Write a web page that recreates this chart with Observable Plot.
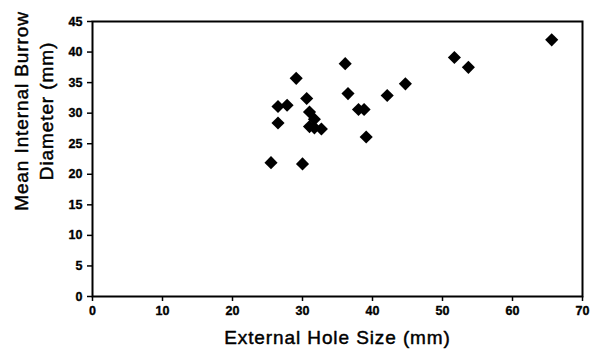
<!DOCTYPE html>
<html>
<head>
<meta charset="utf-8">
<script src="https://cdn.jsdelivr.net/npm/d3@7"></script>
<script src="https://cdn.jsdelivr.net/npm/@observablehq/plot@0.6"></script>
<style>
  html, body { margin: 0; padding: 0; background: #fff; }
  #chart { width: 591px; height: 357px; }
</style>
</head>
<body>
<div id="chart"></div>
<script>
const holeSize = [36.1, 29.1, 36.5, 30.6, 26.5, 27.8, 38.0, 38.8, 26.5, 31.0, 31.7, 31.0, 32.7, 31.7, 39.1, 25.5, 30.0, 51.7, 53.7, 44.7, 42.1, 65.6];
const burrowDiameter = [38.1, 35.7, 33.2, 32.4, 31.1, 31.3, 30.6, 30.6, 28.4, 30.2, 29.0, 27.8, 27.4, 27.6, 26.1, 21.9, 21.7, 39.1, 37.5, 34.8, 32.9, 42.0];
const xTicks = [0, 10, 20, 30, 40, 50, 60, 70];
const yTicks = [0, 5, 10, 15, 20, 25, 30, 35, 40, 45];
const xTitle = "External Hole Size (mm)";
const yTitle = "Mean Internal Burrow\nDiameter (mm)";

const data = holeSize.map((x, i) => ({x, y: burrowDiameter[i]}));
const font = "Liberation Sans, Arial, Helvetica, sans-serif";

const chart = Plot.plot({
  width: 591,
  height: 357,
  marginLeft: 92,
  marginRight: 9,
  marginTop: 21,
  marginBottom: 61,
  style: {fontFamily: font, background: "#fff", color: "#000"},
  x: {domain: [0, 70]},
  y: {domain: [0, 45]},
  marks: [
    Plot.axisX({ticks: xTicks, tickSize: 5, tickFormat: () => "", label: null, strokeWidth: 1.5}),
    Plot.axisY({ticks: yTicks, tickSize: 5, tickFormat: () => "", label: null, strokeWidth: 1.5}),
    Plot.text(xTicks, {x: d => d, frameAnchor: "bottom", dy: 18, text: d => String(d), fontSize: 12.5, fontWeight: "bold", fill: "#000", stroke: "#000", strokeWidth: 0.35}),
    Plot.text(yTicks, {y: d => d, frameAnchor: "left", textAnchor: "end", dx: -10, text: d => String(d), fontSize: 12.5, fontWeight: "bold", fill: "#000", stroke: "#000", strokeWidth: 0.35}),
    Plot.frame({stroke: "#000", strokeWidth: 2}),
    Plot.dot(data, {x: "x", y: "y", symbol: "diamond2", r: 5.9, fill: "#000", stroke: "none"}),
    Plot.text([xTitle], {frameAnchor: "bottom", textAnchor: "middle", dy: 47, fontSize: 19, fill: "#000", stroke: "#000", strokeWidth: 0.45, text: d => d}),
    Plot.text([yTitle], {frameAnchor: "left", textAnchor: "middle", rotate: -90, dx: -60, dy: -48, fontSize: 19, lineHeight: 1.32, fill: "#000", stroke: "#000", strokeWidth: 0.45, text: d => d})
  ]
});
chart.querySelectorAll("text").forEach(t => {
  const s = t.textContent;
  if (s === xTitle || s.includes("Mean") || s.includes("Diameter")) {
    t.style.letterSpacing = "0.9px";
  }
});
document.getElementById("chart").appendChild(chart);
</script>
</body>
</html>
